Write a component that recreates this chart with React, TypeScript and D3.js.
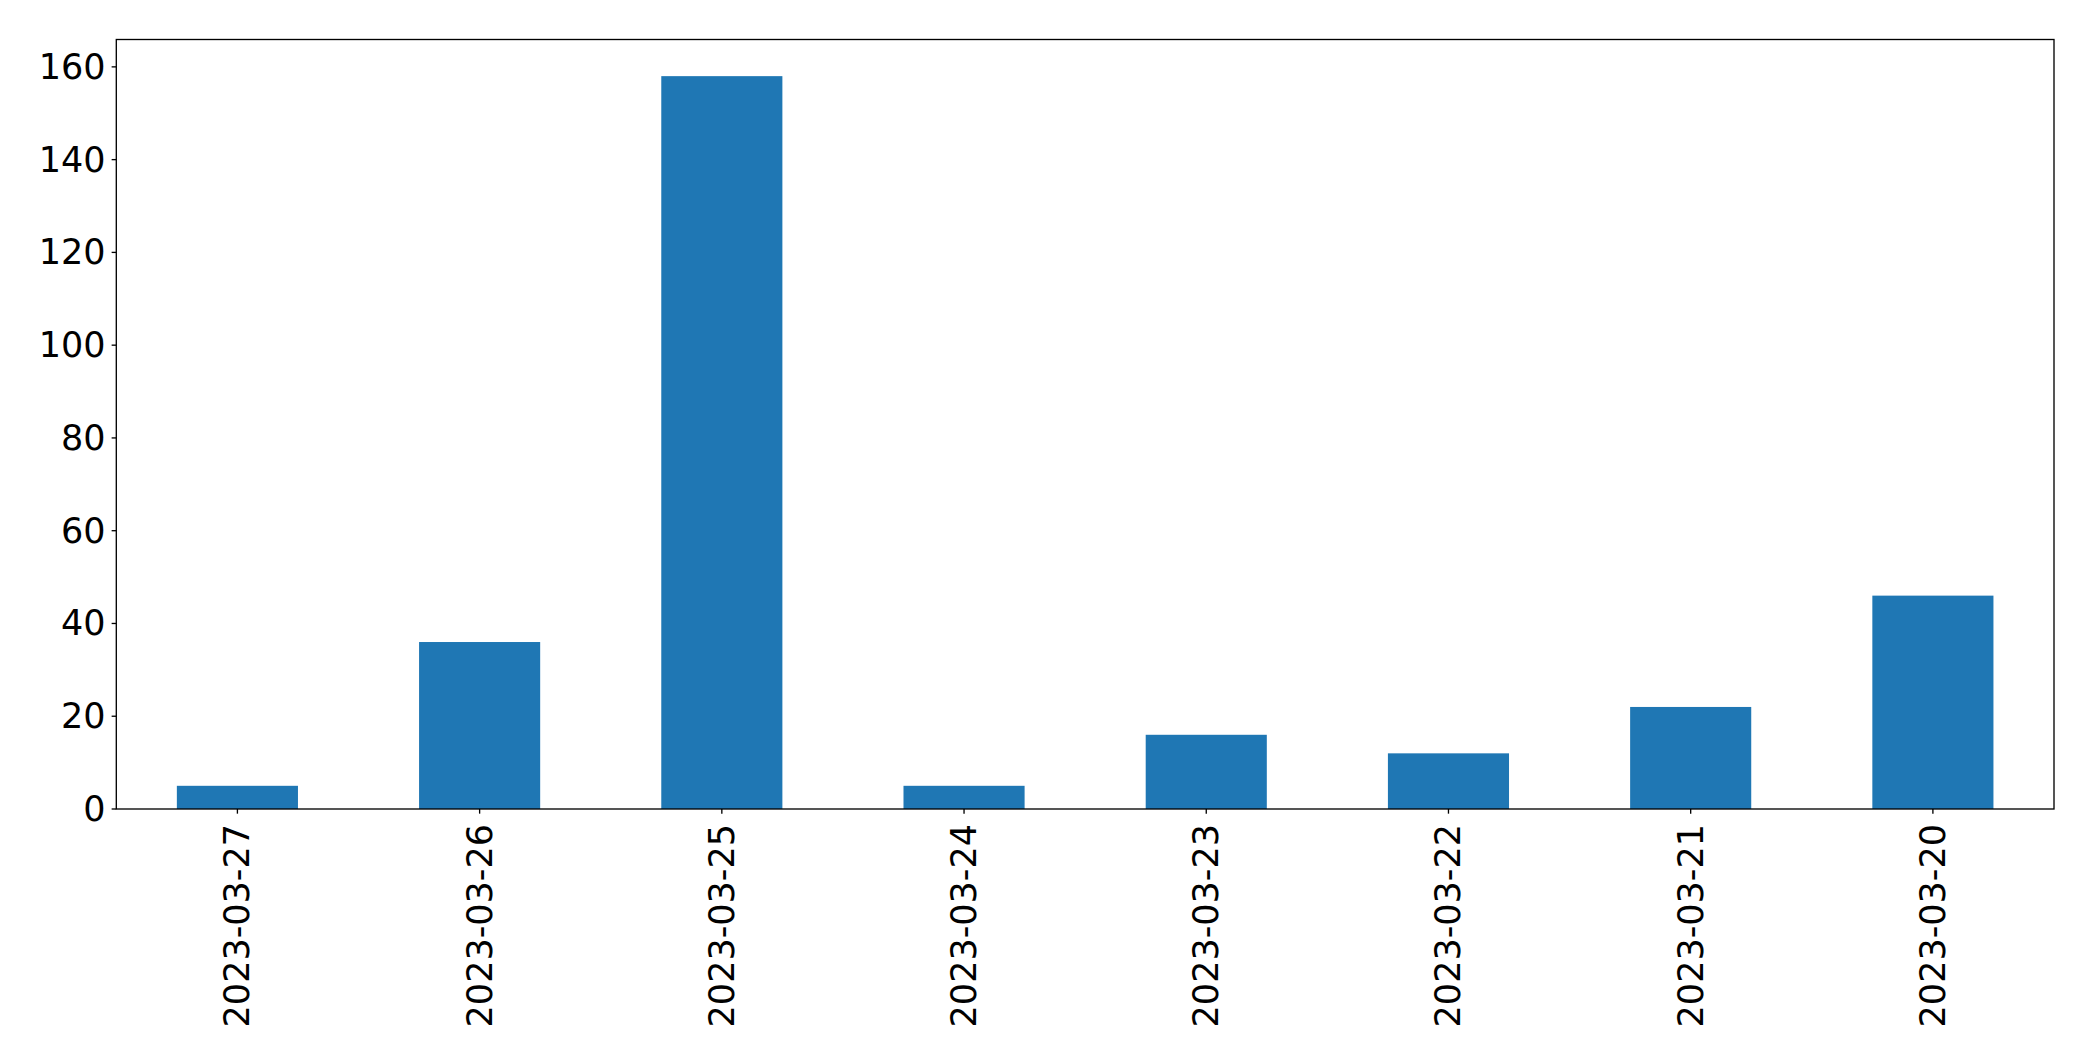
import React from "react";
import * as d3 from "d3";

const categories = ["2023-03-27", "2023-03-26", "2023-03-25", "2023-03-24", "2023-03-23", "2023-03-22", "2023-03-21", "2023-03-20"];
const values = [5, 36, 158, 5, 16, 12, 22, 46];
const yTicks = [0, 20, 40, 60, 80, 100, 120, 140, 160];

const W = 2093;
const H = 1061;
const margin = { left: 116.3, top: 39.5, right: 2093 - 2054, bottom: 1061 - 809 };
const FONT = "DejaVu Sans, sans-serif";
const FS = 35;

export default function App() {
  const x = d3
    .scaleBand<string>()
    .domain(categories)
    .range([margin.left, W - margin.right])
    .paddingInner(0.5)
    .paddingOuter(0.25);
  const yMax = d3.max(values)! * 1.05;
  const y = d3.scaleLinear().domain([0, yMax]).range([H - margin.bottom, margin.top]);
  const tickLen = 4.67;
  const pad = 4.67;
  const x0 = margin.left;
  const x1 = W - margin.right;
  const y0 = H - margin.bottom;
  const y1 = margin.top;
  return (
    <svg width={W} height={H} style={{ position: "absolute", left: 0, top: 0, background: "white" }}>
      <rect x={0} y={0} width={W} height={H} fill="white" />
      {categories.map((c, i) => (
        <rect key={c} x={x(c)} y={y(values[i])} width={x.bandwidth()} height={y(0) - y(values[i])} fill="#1f77b4" />
      ))}
      <rect x={x0} y={y1} width={x1 - x0} height={y0 - y1} fill="none" stroke="black" strokeWidth={1.33} />
      {yTicks.map((t) => (
        <g key={t}>
          <line x1={x0 - tickLen} x2={x0} y1={y(t)} y2={y(t)} stroke="black" strokeWidth={1.33} />
          <text x={x0 - tickLen - pad - 1.5} y={y(t)} textAnchor="end" dominantBaseline="central" fontFamily={FONT} fontSize={FS} fill="black">
            {t}
          </text>
        </g>
      ))}
      {categories.map((c) => {
        const cx = x(c)! + x.bandwidth() / 2;
        return (
          <g key={c}>
            <line x1={cx} x2={cx} y1={y0} y2={y0 + tickLen} stroke="black" strokeWidth={1.33} />
            <text
              transform={`translate(${cx},${y0 + 15}) rotate(-90)`}
              textAnchor="end"
              dominantBaseline="central"
              fontFamily={FONT}
              fontSize={FS}
              fill="black"
            >
              {c}
            </text>
          </g>
        );
      })}
    </svg>
  );
}
